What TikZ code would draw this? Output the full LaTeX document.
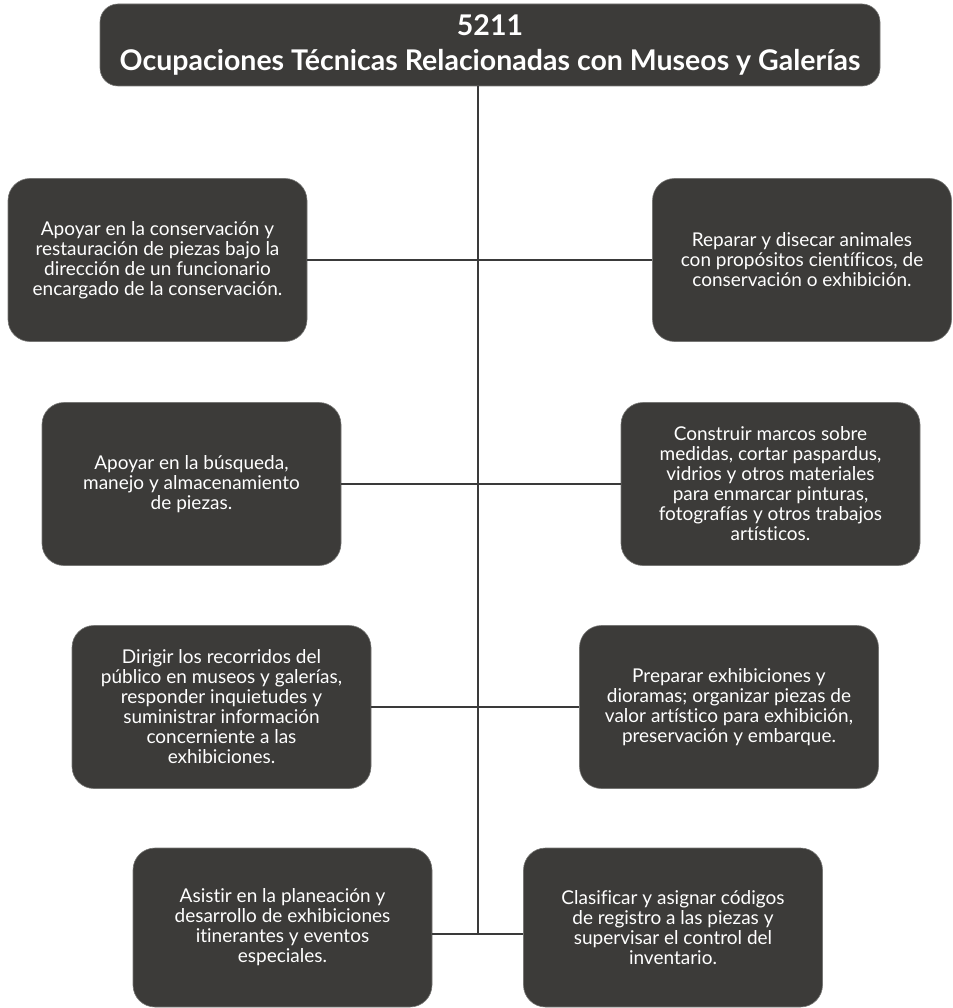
\documentclass[tikz,border=0pt]{standalone}
\usepackage{fontspec}
\setmainfont[Ligatures=NoCommon]{Lato}
\definecolor{boxfill}{HTML}{3C3B39}
\definecolor{linkgray}{HTML}{3A3A3A}
\begin{document}
\begin{tikzpicture}[x=1pt,y=-1pt,
  task/.style={draw=boxfill!70!white, line width=0.6pt, fill=boxfill, rounded corners=22pt,
    minimum width=299pt, minimum height=163pt, text=white, align=center,
    font=\fontsize{19}{20}\selectfont, inner sep=0pt},
  head/.style={draw=boxfill!70!white, line width=0.6pt, fill=boxfill, rounded corners=18pt,
    minimum width=780pt, minimum height=82pt, text=white, align=center,
    font=\bfseries\fontsize{28.5}{35}\selectfont, inner sep=0pt},
  link/.style={draw=linkgray, line width=1.1pt}]
\useasboundingbox (0,0) rectangle (952,1008);

\node[head] (top) at (490,45) {5211\\Ocupaciones Técnicas Relacionadas con Museos y Galerías};

\node[task] (l1) at (157.5,260) {Apoyar en la conservación y\\restauración de piezas bajo la\\dirección de un funcionario\\encargado de la conservación.};
\node[task] (r1) at (802,260) {Reparar y disecar animales\\con propósitos científicos, de\\conservación o exhibición.};

\node[task] (l2) at (191.5,484) {Apoyar en la búsqueda,\\manejo y almacenamiento\\de piezas.};
\node[task] (r2) at (770.5,484) {Construir marcos sobre\\medidas, cortar paspardus,\\vidrios y otros materiales\\para enmarcar pinturas,\\fotografías y otros trabajos\\artísticos.};

\node[task] (l3) at (221.5,707) {Dirigir los recorridos del\\público en museos y galerías,\\responder inquietudes y\\suministrar información\\concerniente a las\\exhibiciones.};
\node[task] (r3) at (729,707) {Preparar exhibiciones y\\dioramas; organizar piezas de\\valor artístico para exhibición,\\preservación y embarque.};

\node[task, minimum height=159pt] (l4) at (282.5,927.5) {Asistir en la planeación y\\desarrollo de exhibiciones\\itinerantes y eventos\\especiales.};
\node[task, minimum height=159pt] (r4) at (673,927.5) {Clasificar y asignar códigos\\de registro a las piezas y\\supervisar el control del\\inventario.};

% vertical trunk and the branches to each pair of tasks
\coordinate (trunkend) at (478,934);
\draw[link] (top.south -| trunkend) -- (trunkend);
\draw[link] (l1.east) -- (r1.west);
\draw[link] (l2.east) -- (r2.west);
\draw[link] (l3.east) -- (r3.west);
\draw[link] (l4.east |- trunkend) -- (r4.west |- trunkend);
\end{tikzpicture}
\end{document}
